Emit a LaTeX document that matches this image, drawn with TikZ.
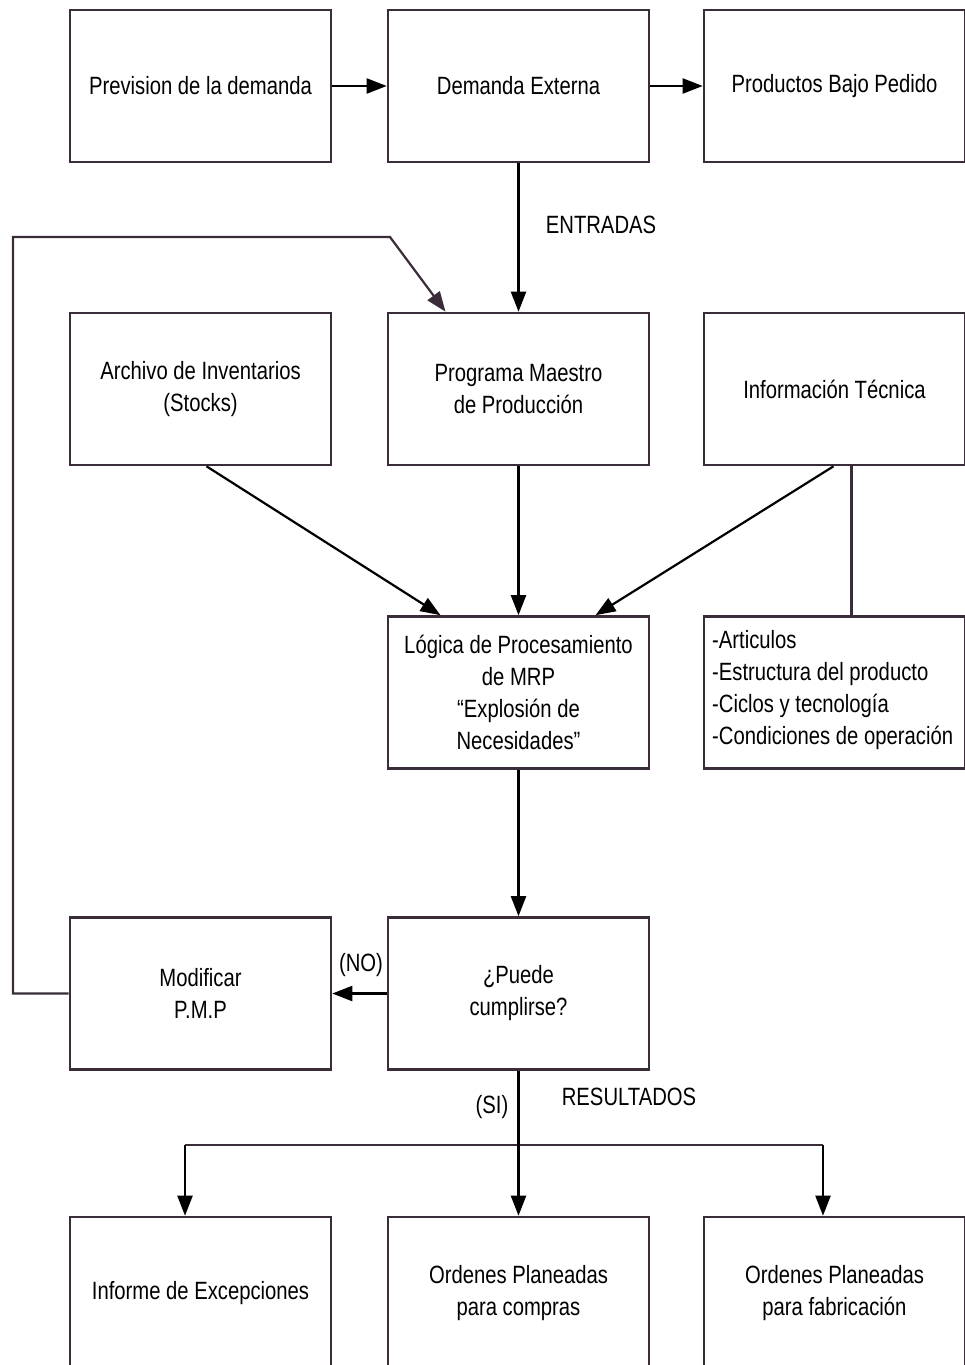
\documentclass[tikz,border=0pt]{standalone}
\usepackage{fontspec}
\setmainfont{Liberation Sans}[FakeStretch=0.81]
\usetikzlibrary{arrows.meta,calc}
\definecolor{boxline}{RGB}{58,44,56}
\begin{document}
\begin{tikzpicture}[x=1pt,y=-1pt,
  box/.style={draw=boxline,line width=2.6pt,minimum width=261pt,minimum height=152pt,
    align=center,inner sep=0pt,font=\fontsize{25}{32}\selectfont},
  lbl/.style={inner sep=0pt,font=\fontsize{25}{32}\selectfont},
  arr/.style={line width=2.2pt,-{Triangle[length=20pt,width=15pt]}},
  ln/.style={line width=2.2pt}]
\useasboundingbox (0,0) rectangle (965,1365);
\clip (0,0) rectangle (965,1365);

% top row
\node[box] (prev) at (200.5,86) {Prevision de la demanda};
\node[box] (dem)  at (518.5,86) {Demanda Externa};
\node[box] (prod) at (834.5,86) {Productos Bajo Pedido};

% second row
\node[box] (arch) at (200.5,389) {Archivo de Inventarios\\(Stocks)};
\node[box] (prog) at (518.5,389) {Programa Maestro\\de Producción};
\node[box] (info) at (834.5,389) {Información Técnica};

% processing logic and technical data list
\node[box] (log) at (518.5,692.5) {Lógica de Procesamiento\\de MRP\\“Explosión de\\Necesidades”};
\node[box] (art) at (834.5,692.5) {};
\node[lbl,anchor=west,align=left] (artx) at (712,690) {-Articulos\\-Estructura del producto\\-Ciclos y tecnología\\-Condiciones de operación};

% decision row
\node[box] (mod)  at (200.5,993.5) {Modificar\\P.M.P};
\node[box] (pue)  at (518.5,993.5) {¿Puede\\cumplirse?};

% results
\node[box] (inf)  at (200.5,1293) {Informe de Excepciones};
\node[box] (oc)   at (518.5,1293) {Ordenes Planeadas\\para compras};
\node[box] (of)   at (834.5,1293) {Ordenes Planeadas\\para fabricación};

% connectors
\draw[arr] (prev) -- (dem);
\draw[arr] (dem) -- (prod);
\draw[arr] (dem) -- (prog);
\node[lbl] (entr) at (601,225) {ENTRADAS};

\draw[arr] ($(arch.south)+(6,0)$) -- ($(log.north)+(-78,0)$);
\draw[arr] (prog) -- (log);
\draw[arr] ($(info.south)+(-1,0)$) -- ($(log.north)+(77,0)$);
\draw[ln,draw=boxline] ($(info.south)+(17,0)$) -- ($(art.north)+(17,0)$);

\draw[arr] (log) -- (pue);
\draw[arr] (pue) -- (mod);
\node[lbl] (no) at (361,965) {(NO)};

\coordinate (fbA) at (13,993.5);
\coordinate (fbB) at (13,237);
\coordinate (fbC) at (390,237);
\draw[arr,draw=boxline] (mod.west) -- (fbA) -- (fbB) -- (fbC) -- ($(prog.north)+(-73,0)$);

\coordinate (dL) at (185,1145);
\coordinate (dR) at (823,1145);
\draw[ln,draw=boxline] (dL) -- (dR);
\draw[arr] (pue) -- (oc);
\draw[arr] (dL) -- (dL |- inf.north);
\draw[arr] (dR) -- (dR |- of.north);
\node[lbl] (si) at (492,1107) {(SI)};
\node[lbl] (res) at (629,1097) {RESULTADOS};
\end{tikzpicture}
\end{document}
